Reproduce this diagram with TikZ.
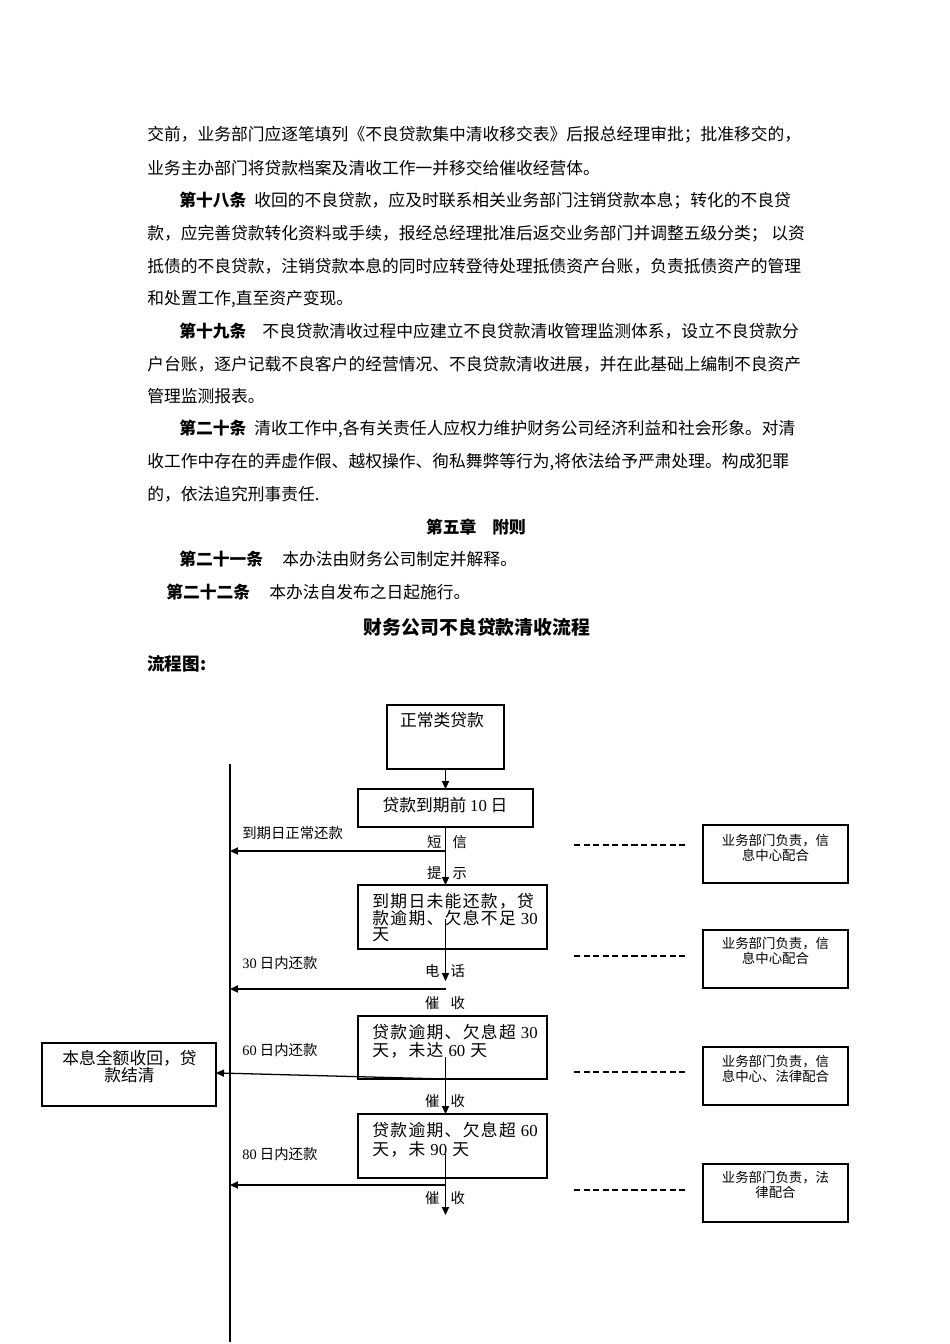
\documentclass[tikz,border=0pt]{standalone}
\usepackage{fontspec}
\setmainfont{Noto Sans CJK SC}
\newfontfamily\boxfont{Noto Sans CJK SC}[LetterSpace=8]
\newfontfamily\numf{Liberation Serif}
\usetikzlibrary{arrows.meta,fit}
\begin{document}
\begin{tikzpicture}[x=0.6263pt,y=-0.6263pt,
  body/.style={anchor=west,inner sep=0pt,font=\fontsize{10.5pt}{12pt}\selectfont},
  head/.style={inner sep=0pt,font=\fontsize{10.5pt}{12pt}\selectfont\bfseries},
  box/.style={draw,line width=0.8pt,inner sep=0pt,outer sep=0pt},
  lbl/.style={inner sep=0pt,font=\fontsize{9pt}{10pt}\selectfont},
  lblw/.style={lbl,anchor=west},
  arr/.style={line width=0.8pt,-{Triangle[length=5pt,width=4.5pt]}},
  ln/.style={line width=0.8pt},
  dsh/.style={line width=0.7pt,dash pattern=on 3.8pt off 2.2pt},
  rtxt/.style={inner sep=0pt,font=\fontsize{8.4pt}{9pt}\selectfont},
  btxt/.style={inner sep=0pt,anchor=west,font=\boxfont\fontsize{10.5pt}{11pt}\selectfont},
  ctxt/.style={inner sep=0pt,font=\fontsize{10.5pt}{11pt}\selectfont}
]
\useasboundingbox[fill=white] (0,0) rectangle (950,1344);

% ---------- body text ----------
\node[body] (t1) at (147,135) {交前，业务部门应逐笔填列《不良贷款集中清收移交表》后报总经理审批；批准移交的，};
\node[body] (t2) at (147,168) {业务主办部门将贷款档案及清收工作一并移交给催收经营体。};
\node[body] (t3) at (179,201) {{\bfseries 第十八条}\hspace{5pt}收回的不良贷款，应及时联系相关业务部门注销贷款本息；转化的不良贷};
\node[body] (t4) at (147,234) {款，应完善贷款转化资料或手续，报经总经理批准后返交业务部门并调整五级分类； 以资};
\node[body] (t5) at (147,266) {抵债的不良贷款，注销贷款本息的同时应转登待处理抵债资产台账，负责抵债资产的管理};
\node[body] (t6) at (147,299) {和处置工作,直至资产变现。};
\node[body] (t7) at (179,331) {{\bfseries 第十九条}\hspace{10pt}不良贷款清收过程中应建立不良贷款清收管理监测体系，设立不良贷款分};
\node[body] (t8) at (147,364) {户台账，逐户记载不良客户的经营情况、不良贷款清收进展，并在此基础上编制不良资产};
\node[body] (t9) at (147,396) {管理监测报表。};
\node[body] (t10) at (179,429) {{\bfseries 第二十条}\hspace{5pt}清收工作中,各有关责任人应权力维护财务公司经济利益和社会形象。对清};
\node[body] (t11) at (147,462) {收工作中存在的弄虚作假、越权操作、徇私舞弊等行为,将依法给予严肃处理。构成犯罪};
\node[body] (t12) at (147,494) {的，依法追究刑事责任.};
\node[head] (ch5) at (476,527) {第五章\hspace{10pt}附则};
\node[body] (t13) at (179,559) {{\bfseries 第二十一条}\hspace{12pt}本办法由财务公司制定并解释。};
\node[body] (t14) at (166,592) {{\bfseries 第二十二条}\hspace{12pt}本办法自发布之日起施行。};
\node[inner sep=0pt,font=\fontsize{11.8pt}{13pt}\selectfont\bfseries] (title) at (477,627) {财务公司不良贷款清收流程};
\node[anchor=west,inner sep=0pt,font=\fontsize{11pt}{13pt}\selectfont\bfseries] (lc) at (147,664) {流程图:};

% ---------- boxes ----------
\node[box,fit={(387,705)(504,769)}] (b1) {};
\node[box,fit={(358,789)(533,827)}] (b2) {};
\node[box,fit={(358,885)(547,949)}] (b3) {};
\node[box,fit={(358,1016)(547,1079)}] (b4) {};
\node[box,fit={(358,1114)(547,1178)}] (b5) {};
\node[box,fit={(42,1043)(216,1106)}] (bl) {};
\node[box,fit={(703,825)(848,883)}] (rA) {};
\node[box,fit={(703,930)(848,988)}] (rB) {};
\node[box,fit={(703,1047)(848,1105)}] (rC) {};
\node[box,fit={(703,1164)(848,1222)}] (rD) {};

% box texts
\node[ctxt] (b1t) at (442,720) {正常类贷款};
\node[ctxt] (b2t) at (445,805) {贷款到期前 {\numf 10} 日};
\node[btxt] (b3t1) at (372,901) {到期日未能还款，贷};
\node[btxt] (b3t2) at (372,918) {款逾期、欠息不足 {\numf 30}};
\node[btxt] (b3t3) at (372,935) {天};
\node[btxt] (b4t1) at (372,1032) {贷款逾期、欠息超 {\numf 30}};
\node[btxt] (b4t2) at (372,1050) {天，未达 {\numf 60} 天};
\node[btxt] (b5t1) at (372,1130) {贷款逾期、欠息超 {\numf 60}};
\node[btxt] (b5t2) at (372,1149) {天，未 {\numf 90} 天};
\node[ctxt] (blt1) at (129.5,1058) {本息全额收回，贷};
\node[ctxt] (blt2) at (129.5,1075) {款结清};
\node[rtxt] (rAt1) at (775.5,841) {业务部门负责，信};
\node[rtxt] (rAt2) at (775.5,855) {息中心配合};
\node[rtxt] (rBt1) at (775.5,944) {业务部门负责，信};
\node[rtxt] (rBt2) at (775.5,958) {息中心配合};
\node[rtxt] (rCt1) at (775.5,1062) {业务部门负责，信};
\node[rtxt] (rCt2) at (775.5,1076) {息中心、法律配合};
\node[rtxt] (rDt1) at (775.5,1178) {业务部门负责，法};
\node[rtxt] (rDt2) at (775.5,1192) {律配合};

% labels
\node[lblw] (l1) at (242,833) {到期日正常还款};
\node[lblw] (l2) at (242,963) {{\numf 30} 日内还款};
\node[lblw] (l3) at (242,1050) {{\numf 60} 日内还款};
\node[lblw] (l4) at (242,1154) {{\numf 80} 日内还款};
\node[lbl] (s1) at (447,842) {短\hspace{7pt}信};
\node[lbl] (s2) at (447,873) {提\hspace{7pt}示};
\node[lbl] (s3) at (445,971) {电\hspace{7pt}话};
\node[lbl] (s4) at (445,1003) {催\hspace{7pt}收};
\node[lbl] (s5) at (445,1101) {催\hspace{7pt}收};
\node[lbl] (s6) at (445,1198) {催\hspace{7pt}收};

% coordinates
\coordinate (mtop) at (230,764);
\coordinate (mbot) at (230,1342);
\coordinate (h1a) at (445.5,851);  \coordinate (h1b) at (230,851);
\coordinate (v3a) at (445.5,919);  \coordinate (v3b) at (445.5,981);
\coordinate (h2a) at (445.5,989);  \coordinate (h2b) at (230,989);
\coordinate (v4a) at (445.5,1057);
\coordinate (h3a) at (445.5,1079);
\coordinate (v5a) at (445.5,1154); \coordinate (v5b) at (445.5,1215);
\coordinate (h4a) at (445.5,1185); \coordinate (h4b) at (230,1185);

% connectors
\draw[ln] (mtop) -- (mbot);
\draw[arr] (b1.south) -- (b1.south |- b2.north);
\draw[arr] (b2.south) -- (b2.south |- b3.north);
\draw[arr] (h1a) -- (h1b);
\draw[arr] (v3a) -- (v3b);
\draw[arr] (h2a) -- (h2b);
\draw[arr] (v4a) -- (v4a |- b5.north);
\draw[arr] (h3a) -- ([yshift=1pt]bl.east);
\draw[arr] (v5a) -- (v5b);
\draw[arr] (h4a) -- (h4b);

% dashed lines
\coordinate (d1a) at (574,845);  \coordinate (d1b) at (688,845);
\coordinate (d2a) at (574,956);  \coordinate (d2b) at (688,956);
\coordinate (d3a) at (574,1072); \coordinate (d3b) at (688,1072);
\coordinate (d4a) at (574,1190); \coordinate (d4b) at (688,1190);
\draw[dsh] (d1a) -- (d1b);
\draw[dsh] (d2a) -- (d2b);
\draw[dsh] (d3a) -- (d3b);
\draw[dsh] (d4a) -- (d4b);
\end{tikzpicture}
\end{document}
